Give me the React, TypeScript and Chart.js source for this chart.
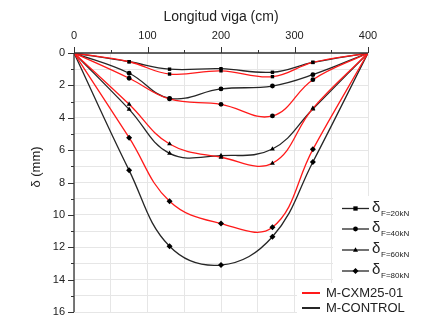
import React, { useEffect, useRef } from "react";
import { Chart, registerables } from "chart.js";

Chart.register(...registerables);

const xPositions = [0, 75, 130, 200, 270, 325, 400];
const ctrl20 = [0, 0.54, 1.0, 0.97, 1.19, 0.58, 0];
const cxm20 = [0, 0.54, 1.3, 1.1, 1.46, 0.58, 0];
const ctrl40 = [0, 1.25, 2.8, 2.22, 2.04, 1.34, 0];
const cxm40 = [0, 1.56, 2.84, 3.17, 3.89, 1.65, 0];
const ctrl60 = [0, 3.48, 6.2, 6.34, 5.93, 3.46, 0];
const cxm60 = [0, 3.17, 5.62, 6.44, 6.81, 3.42, 0];
const ctrl80 = [0, 7.25, 11.94, 13.1, 11.35, 6.73, 0];
const cxm80 = [0, 5.23, 9.16, 10.54, 10.77, 5.95, 0];

const loadLabels = ["F=20kN", "F=40kN", "F=60kN", "F=80kN"];
const seriesNames = ["M-CXM25-01", "M-CONTROL"];
const xTitle = "Longitud viga (cm)";
const yTitle = "δ (mm)";

const RED = "#ff1a1a";
const BLACK = "#262626";
const FONT = "'Liberation Sans', Arial, sans-serif";

const styles = ["rect", "circle", "triangle", "rectRot"];
const radii = [2.4, 2.4, 2.8, 3.0];

function mk(vals: number[], color: string, idx: number) {
  return {
    data: vals.map((v, i) => ({ x: xPositions[i], y: v })),
    borderColor: color,
    borderWidth: 1.3,
    tension: 0.4,
    pointStyle: styles[idx],
    pointRadius: vals.map((_, i) => (i === 0 || i === vals.length - 1 ? 0 : radii[idx])),
    pointBackgroundColor: "#000",
    pointBorderColor: "#000",
    pointBorderWidth: 0,
    fill: false,
  };
}

function drawMarker(ctx: CanvasRenderingContext2D, style: string, x: number, y: number, r: number) {
  ctx.beginPath();
  if (style === "rect") {
    const s = r * 0.9;
    ctx.rect(x - s, y - s, 2 * s, 2 * s);
  } else if (style === "circle") {
    ctx.arc(x, y, r, 0, Math.PI * 2);
  } else if (style === "triangle") {
    ctx.moveTo(x, y - r);
    ctx.lineTo(x + r * 0.9, y + r * 0.6);
    ctx.lineTo(x - r * 0.9, y + r * 0.6);
    ctx.closePath();
  } else {
    ctx.moveTo(x, y - r);
    ctx.lineTo(x + r, y);
    ctx.lineTo(x, y + r);
    ctx.lineTo(x - r, y);
    ctx.closePath();
  }
  ctx.fill();
}

const decor = {
  id: "decor",
  beforeDatasetsDraw(chart: any) {
    const ctx = chart.ctx;
    ctx.save();
    ctx.fillStyle = "#fff";
    ctx.fillRect(333, 196, 110, 140);
    ctx.fillRect(297, 283, 150, 60);
    ctx.restore();
  },
  afterDraw(chart: any) {
    const ctx = chart.ctx;
    const xs = chart.scales.x;
    const ys = chart.scales.y;
    const area = chart.chartArea;
    ctx.save();
    ctx.strokeStyle = "#333";
    ctx.lineWidth = 1.3;
    ctx.beginPath();
    ctx.moveTo(area.left, area.top);
    ctx.lineTo(area.right, area.top);
    ctx.moveTo(area.left, area.top);
    ctx.lineTo(area.left, area.bottom);
    ctx.stroke();
    ctx.lineWidth = 1;
    ctx.beginPath();
    for (let v = 0; v <= 400; v += 50) {
      const px = Math.round(xs.getPixelForValue(v)) + 0.5;
      const len = v % 100 === 0 ? 6 : 3;
      ctx.moveTo(px, area.top);
      ctx.lineTo(px, area.top - len);
    }
    for (let v = 0; v <= 16; v += 1) {
      const py = Math.round(ys.getPixelForValue(v)) + 0.5;
      const len = v % 2 === 0 ? 6 : 3;
      ctx.moveTo(area.left, py);
      ctx.lineTo(area.left - len, py);
    }
    ctx.stroke();
    ctx.fillStyle = "#222";
    ctx.font = `11px ${FONT}`;
    ctx.textAlign = "center";
    ctx.textBaseline = "middle";
    for (let v = 0; v <= 400; v += 100) {
      ctx.fillText(String(v), xs.getPixelForValue(v), 36);
    }
    ctx.textAlign = "right";
    for (let v = 0; v <= 16; v += 2) {
      ctx.fillText(String(v), 65, ys.getPixelForValue(v));
    }
    ctx.font = `14px ${FONT}`;
    ctx.textAlign = "center";
    ctx.fillText(xTitle, (area.left + area.right) / 2, 17);
    ctx.save();
    ctx.translate(36, 167);
    ctx.rotate(-Math.PI / 2);
    ctx.font = `13px ${FONT}`;
    ctx.fillText(yTitle, 0, 0);
    ctx.restore();

    const rowsY = [208.5, 229, 250, 271];
    rowsY.forEach((y, i) => {
      ctx.strokeStyle = BLACK;
      ctx.lineWidth = 1.3;
      ctx.beginPath();
      ctx.moveTo(342, y);
      ctx.lineTo(369, y);
      ctx.stroke();
      ctx.fillStyle = "#000";
      drawMarker(ctx, styles[i], 355.5, y, radii[i]);
      ctx.fillStyle = "#222";
      ctx.textAlign = "left";
      ctx.textBaseline = "middle";
      ctx.font = `15px ${FONT}`;
      ctx.fillText("δ", 372, y - 1);
      ctx.font = `8px ${FONT}`;
      ctx.fillText(loadLabels[i], 381, y + 5);
    });
    const sy = [293, 308];
    const sc = [RED, BLACK];
    sy.forEach((y, i) => {
      ctx.strokeStyle = sc[i];
      ctx.lineWidth = 2;
      ctx.beginPath();
      ctx.moveTo(302, y);
      ctx.lineTo(320, y);
      ctx.stroke();
      ctx.fillStyle = "#222";
      ctx.font = `13px ${FONT}`;
      ctx.textAlign = "left";
      ctx.textBaseline = "middle";
      ctx.fillText(seriesNames[i], 326, y + 0.5);
    });
    ctx.restore();
  },
};

export default function App() {
  const ref = useRef<HTMLCanvasElement>(null);
  useEffect(() => {
    if (!ref.current) return;
    const chart = new Chart(ref.current, {
      type: "line",
      data: {
        datasets: [
          mk(cxm20, RED, 0),
          mk(cxm40, RED, 1),
          mk(cxm60, RED, 2),
          mk(cxm80, RED, 3),
          mk(ctrl20, BLACK, 0),
          mk(ctrl40, BLACK, 1),
          mk(ctrl60, BLACK, 2),
          mk(ctrl80, BLACK, 3),
        ] as any,
      },
      options: {
        responsive: false,
        animation: false,
        devicePixelRatio: 1,
        layout: { padding: { left: 0, top: 0, right: 70, bottom: 19 } },
        plugins: { legend: { display: false }, tooltip: { enabled: false } },
        scales: {
          x: {
            type: "linear",
            position: "top",
            min: 0,
            max: 400,
            ticks: { stepSize: 50, display: false },
            border: { display: false },
            grid: { color: "#e6e6e6", lineWidth: 1, drawTicks: false },
            afterFit: (s: any) => {
              s.height = 53;
            },
          },
          y: {
            type: "linear",
            reverse: true,
            min: 0,
            max: 16,
            ticks: { stepSize: 1, display: false },
            border: { display: false },
            grid: { color: "#e6e6e6", lineWidth: 1, drawTicks: false },
            afterFit: (s: any) => {
              s.width = 74;
            },
          },
        },
      },
      plugins: [decor],
    });
    return () => chart.destroy();
  }, []);
  return (
    <div style={{ position: "fixed", left: 0, top: 0, width: 438, height: 331, background: "#fff" }}>
      <canvas ref={ref} width={438} height={331} />
    </div>
  );
}
